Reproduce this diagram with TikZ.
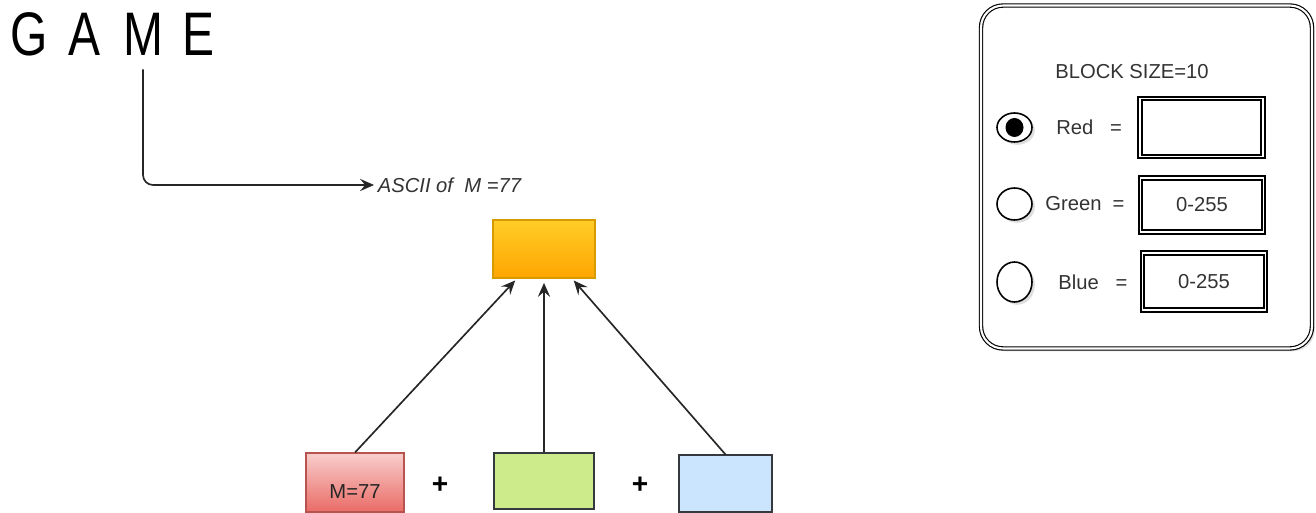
\documentclass[tikz,border=0pt]{standalone}
\usepackage{fontspec}
\setmainfont{Liberation Sans}
\newfontfamily\titlefont[FakeStretch=0.78]{Liberation Sans}
\usetikzlibrary{arrows.meta,shapes.geometric,shadows,calc}

\definecolor{mixtop}{HTML}{FFCD28}
\definecolor{mixbot}{HTML}{FFA500}
\definecolor{mixline}{HTML}{D79B00}
\definecolor{redtop}{HTML}{F8CECC}
\definecolor{redbot}{HTML}{EA6B66}
\definecolor{redline}{HTML}{B85450}
\definecolor{greenfill}{HTML}{CDEB8B}
\definecolor{bluefill}{HTML}{CCE5FF}
\definecolor{boxline}{HTML}{36393D}

\begin{document}
\begin{tikzpicture}[x=0.02cm,y=-0.02cm,
    every node/.style={font=\fontsize{11.5}{14}\selectfont, text=black!80},
    letter/.style={font=\titlefont\fontsize{35}{40}\selectfont, text=black, inner sep=0, anchor=base},
    arrow/.style={-{Stealth[length=8pt,width=7pt,inset=3pt]}, line width=0.95pt, black!85},
    colbox/.style={draw, line width=0.6pt, inner sep=0},
    plus/.style={font=\bfseries\fontsize{16}{16}\selectfont, text=black},
    softshadow/.style={drop shadow={shadow xshift=1.6pt, shadow yshift=-1.6pt, fill=black!25}},
    radio/.style={ellipse, draw=black, line width=0.9pt, fill=white, inner sep=0, minimum width=0.7cm, softshadow},
    field/.style={draw=black, double=white, line width=0.9pt, double distance=1.1pt, fill=white, minimum width=2.46cm, inner sep=0, softshadow},
    caption/.style={inner sep=0, anchor=west}]
    \useasboundingbox (0,0) rectangle (1316,513);

    % title letters
    \node[letter] (g) at (29.5,56) {G};
    \node[letter] (a) at (84.5,56) {A};
    \node[letter] (m) at (143,56) {M};
    \node[letter] (e) at (198,56) {E};
    \node[caption, inner sep=2pt, font=\itshape\fontsize{11.5}{14}\selectfont] (ascii) at (374,185) {ASCII of \ M =77};
    \draw[arrow, rounded corners=0.2cm, shorten <=0.26cm] (m.south) |- (ascii.west);

    % colour boxes
    \node[colbox, draw=mixline, top color=mixtop, bottom color=mixbot, minimum width=2.04cm, minimum height=1.16cm] (mix) at (544,249) {};
    \node[colbox, draw=redline, top color=redtop, bottom color=redbot, minimum width=1.96cm, minimum height=1.18cm,
          label={[yshift=-0.19cm, text=black!85]center:M=77}] (red) at (355,482.5) {};
    \node[colbox, draw=boxline, fill=greenfill, minimum width=2cm, minimum height=1.12cm] (green) at (544,481) {};
    \node[colbox, draw=boxline, fill=bluefill, minimum width=1.86cm, minimum height=1.14cm] (blue) at (725.5,483.5) {};
    \node[plus] (plusa) at (440,485) {+};
    \node[plus] (plusb) at (640,485) {+};

    \draw[arrow, shorten >=1.5pt] (red.north) -- ($(mix.south)+(-27,0)$);
    \draw[arrow, shorten >=2.5pt] (green.north) -- (mix.south);
    \draw[arrow, shorten >=1.5pt] (blue.north) -- ($(mix.south)+(28,0)$);

    % settings panel
    \node[draw=black, double=white, line width=0.65pt, double distance=1.2pt, rounded corners=0.44cm, fill=white,
          minimum width=6.62cm, minimum height=6.86cm, softshadow] (panel) at (1146.5,177) {};
    \node (blocksize) at (1132,72) {BLOCK SIZE=10};

    \node[radio, minimum height=0.58cm] (redradio) at (1014.5,127.5) {};
    \fill[black] (redradio.center) ellipse [x radius=9, y radius=9.5];
    \node[radio, minimum height=0.64cm] (greenradio) at (1014.5,204) {};
    \node[radio, minimum height=0.8cm] (blueradio) at (1014.5,282) {};

    \node[caption] (redlabel) at (1056,127.5) {Red \ \ =};
    \node[caption] (greenlabel) at (1045,203.5) {Green \ =};
    \node[caption] (bluelabel) at (1058,282) {Blue \ \ =};

    \node[field, minimum height=1.16cm] (redfield) at (1201.5,127.5) {};
    \node[field, minimum height=1.08cm] (greenfield) at (1202,205) {0-255};
    \node[field, minimum height=1.14cm] (bluefield) at (1204,281.5) {0-255};
\end{tikzpicture}
\end{document}
